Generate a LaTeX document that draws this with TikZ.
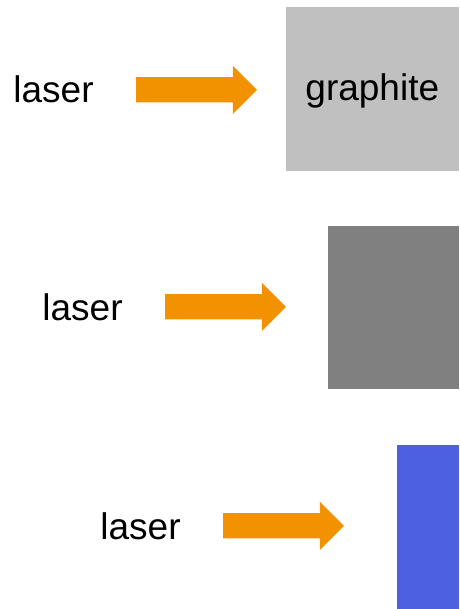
\documentclass[tikz,border=0pt]{standalone}
\usepackage{fontspec}
\setmainfont{Liberation Sans}
\usetikzlibrary{shapes.arrows, positioning}
\definecolor{beamorange}{RGB}{243,146,0}
\definecolor{graphitegray}{RGB}{192,192,192}
\definecolor{darkergray}{RGB}{128,128,128}
\definecolor{targetblue}{RGB}{76,96,224}

\begin{document}
\begin{tikzpicture}[
      x=1pt, y=-1pt,
      node distance = 42pt,
      lasertext/.style = {inner sep=0pt, anchor=base, font=\fontsize{37}{44}\selectfont},
      beam/.style      = {single arrow, fill=beamorange, inner xsep=0pt, inner ysep=12.5pt,
                          single arrow head extend=11.5pt, single arrow tip angle=90,
                          minimum height=121pt, minimum width=48pt},
      target/.style    = {inner sep=0pt, anchor=north east, font=\fontsize{37}{44}\selectfont}
    ]
    \useasboundingbox (0,0) rectangle (459,609);

    % Targets
    \node[target, fill=graphitegray, minimum width=173pt, minimum height=164pt,
          text height=27pt, text depth=5pt] (target1) at (459,7) {graphite};
    \node[target, fill=darkergray, minimum width=131pt, minimum height=163pt] (target2) at (459,226) {};
    \node[target, fill=targetblue, minimum width=62pt, minimum height=164pt] (target3) at (459,445) {};

    % Lasers
    \node[lasertext] (laser1) at (53.5,103) {laser};
    \node[lasertext] (laser2) at (82.5,320) {laser};
    \node[lasertext] (laser3) at (140.5,539) {laser};

    % Beams
    \node[beam, right=of laser1] (beam1) {};
    \node[beam, right=of laser2] (beam2) {};
    \node[beam, right=of laser3] (beam3) {};

  \end{tikzpicture}
\end{document}
